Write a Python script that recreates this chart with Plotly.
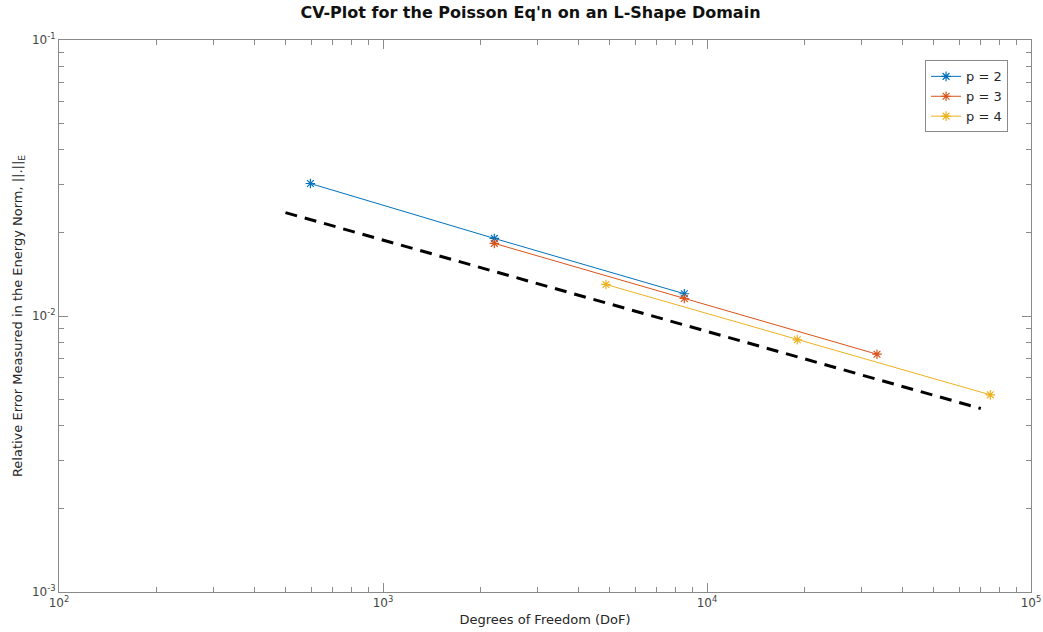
import plotly.graph_objects as go

# Data
dof_p2 = [597, 2206, 8511]
err_p2 = [0.0302, 0.0191, 0.01204]

dof_p3 = [2206, 8511, 33470]
err_p3 = [0.01833, 0.01157, 0.00727]

dof_p4 = [4877, 19000, 74880]
err_p4 = [0.01301, 0.0082, 0.00518]

ref_dof = [500, 70000]
ref_err = [0.0237, 0.00462]

x_tickvals = [100, 1000, 10000, 100000]
x_ticktext = ["10<sup>2</sup>", "10<sup>3</sup>", "10<sup>4</sup>", "10<sup>5</sup>"]
y_tickvals = [0.001, 0.01, 0.1]
y_ticktext = ["10<sup>-3</sup>", "10<sup>-2</sup>", "10<sup>-1</sup>"]

colors = ["#0072BD", "#D95319", "#EDB120"]
FONT = "DejaVu Sans"
AXIS_COLOR = "#8a8a8a"
TICK_FONT_COLOR = "#444444"

fig = go.Figure()

fig.add_trace(go.Scatter(
    x=ref_dof, y=ref_err, mode="lines",
    line=dict(color="black", width=3, dash="12px,8px"),
    showlegend=False, hoverinfo="skip",
))

for name, xs, ys, c in [("p = 2", dof_p2, err_p2, colors[0]),
                        ("p = 3", dof_p3, err_p3, colors[1]),
                        ("p = 4", dof_p4, err_p4, colors[2])]:
    fig.add_trace(go.Scatter(
        x=xs, y=ys, mode="lines+markers", name=name,
        line=dict(color=c, width=1),
        marker=dict(symbol="asterisk-open", size=8, color=c,
                    line=dict(color=c, width=1.2)),
    ))

axis_common = dict(
    type="log",
    showline=True, linecolor=AXIS_COLOR, linewidth=1,
    mirror="ticks",
    ticks="inside", ticklen=9, tickcolor=AXIS_COLOR, tickwidth=1,
    showgrid=False, zeroline=False,
    tickfont=dict(family=FONT, size=12, color=TICK_FONT_COLOR),
    minor=dict(ticks="inside", ticklen=5, tickcolor=AXIS_COLOR,
               tickwidth=1, dtick="D1", showgrid=False),
)

fig.update_xaxes(
    **axis_common,
    range=[2, 5],
    tickmode="array", tickvals=x_tickvals, ticktext=x_ticktext,
    title=dict(text="Degrees of Freedom (DoF)",
               font=dict(family=FONT, size=13, color="#262626"),
               standoff=5),
)
fig.update_yaxes(
    **axis_common,
    range=[-3, -1],
    tickmode="array", tickvals=y_tickvals, ticktext=y_ticktext,
    title=dict(text="Relative Error Measured in the Energy Norm, ||.||<sub>E</sub>",
               font=dict(family=FONT, size=13, color="#262626"),
               standoff=6),
)

fig.update_layout(
    width=1043, height=632,
    margin=dict(l=59, r=12, t=40, b=40, autoexpand=False),
    paper_bgcolor="white", plot_bgcolor="white",
    title=dict(text="<b>CV-Plot for the Poisson Eq'n on an L-Shape Domain</b>",
               x=0.5086, xanchor="center", y=0.981, yanchor="middle",
               font=dict(family=FONT, size=16, color="#111111")),
    legend=dict(x=0.9764, xanchor="right", y=0.963, yanchor="top",
                bordercolor=AXIS_COLOR, borderwidth=1, bgcolor="white",
                font=dict(family=FONT, size=13, color="#262626"),
                itemwidth=30),
    showlegend=True,
)

fig.write_html("out.html", config={"displayModeBar": False},
               post_script="document.body.style.margin='0';")
